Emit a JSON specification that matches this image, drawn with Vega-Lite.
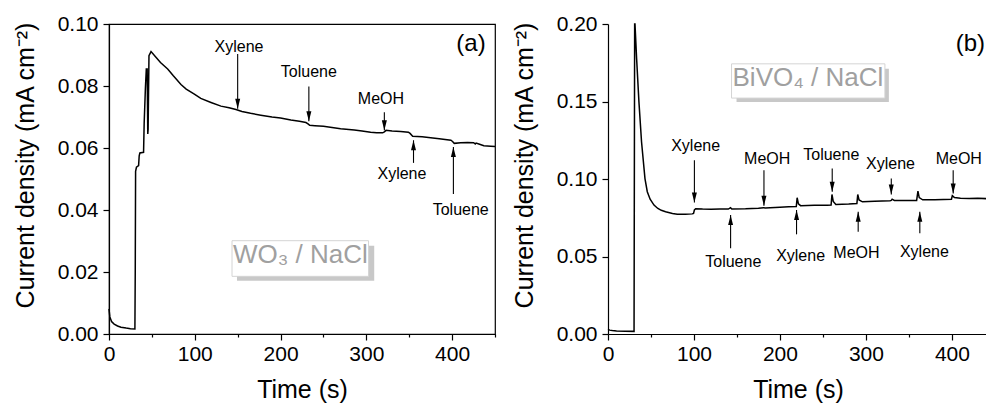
{
  "$schema": "https://vega.github.io/schema/vega-lite/v6.json",
  "padding": {"left": 12, "top": 12, "right": 0, "bottom": 0},
  "background": "white",
  "config": {
    "font": "Liberation Sans",
    "view": {"stroke": "black", "strokeWidth": 1.2},
    "concat": {"spacing": 12},
    "axis": {
      "labelFont": "Liberation Sans", "labelFontSize": 21, "labelColor": "black",
      "titleFont": "Liberation Sans", "titleFontSize": 25, "titleFontWeight": "normal", "titleColor": "black",
      "tickColor": "black", "domainColor": "black", "domainWidth": 1.2, "tickWidth": 1.2,
      "grid": false, "labelOverlap": false, "labelFlush": false, "labelBound": false
    },
    "axisY": {"labelPadding": 5, "minExtent": 50, "maxExtent": 50, "titlePadding": 21, "titleY": 141},
    "axisX": {"labelPadding": 3, "titlePadding": 13}
  },
  "datasets": {
    "curveA": [
      {"t":0,"v":0.0081},{"t":1,"v":0.0055},{"t":3,"v":0.004},{"t":6,"v":0.0032},{"t":10,"v":0.0026},{"t":14,"v":0.0022},{"t":20,"v":0.0019},{"t":25,"v":0.0017},{"t":30.2,"v":0.0016},{"t":30.6,"v":0.02},{"t":31,"v":0.0525},{"t":32,"v":0.0538},{"t":34.5,"v":0.0543},{"t":35.2,"v":0.0575},{"t":36,"v":0.0584},{"t":40.3,"v":0.0586},{"t":41,"v":0.068},{"t":42.4,"v":0.079},{"t":43.5,"v":0.0855},{"t":44.5,"v":0.0855},{"t":45.2,"v":0.0645},{"t":45.6,"v":0.066},{"t":46.6,"v":0.0898},{"t":49,"v":0.0911},{"t":55,"v":0.0892},{"t":60,"v":0.0876},{"t":68.4,"v":0.0855},{"t":75,"v":0.0833},{"t":83.9,"v":0.0805},{"t":90,"v":0.079},{"t":99.5,"v":0.0774},{"t":107,"v":0.076},{"t":118.9,"v":0.0747},{"t":130.5,"v":0.0735},{"t":140,"v":0.073},{"t":148,"v":0.0724},{"t":155,"v":0.0718},{"t":165,"v":0.0712},{"t":177,"v":0.0706},{"t":190,"v":0.07},{"t":200,"v":0.0697},{"t":212,"v":0.069},{"t":222,"v":0.0686},{"t":229.6,"v":0.0682},{"t":232,"v":0.0678},{"t":234,"v":0.0673},{"t":240,"v":0.0672},{"t":250,"v":0.067},{"t":260,"v":0.0666},{"t":270,"v":0.0662},{"t":286,"v":0.0658},{"t":295,"v":0.0655},{"t":305,"v":0.0651},{"t":312,"v":0.0649},{"t":319,"v":0.0649},{"t":321,"v":0.0652},{"t":323,"v":0.0657},{"t":330,"v":0.0655},{"t":340,"v":0.0653},{"t":349,"v":0.0651},{"t":351,"v":0.0647},{"t":354,"v":0.0638},{"t":365,"v":0.0636},{"t":375,"v":0.0633},{"t":385,"v":0.063},{"t":398.6,"v":0.0625},{"t":400.5,"v":0.0621},{"t":402.5,"v":0.0615},{"t":410,"v":0.0617},{"t":418,"v":0.0618},{"t":425,"v":0.0617},{"t":427,"v":0.0613},{"t":428,"v":0.0616},{"t":432,"v":0.0612},{"t":437,"v":0.0607},{"t":445,"v":0.0606},{"t":450,"v":0.0605}
    ],
    "curveB": [
      {"t":0,"v":0.003},{"t":2,"v":0.0025},{"t":5,"v":0.0022},{"t":10,"v":0.002},{"t":20,"v":0.0018},{"t":30.3,"v":0.0017},{"t":31,"v":0.2},{"t":31.4,"v":0.2},{"t":33.3,"v":0.1775},{"t":36,"v":0.1496},{"t":39,"v":0.124},{"t":43,"v":0.1003},{"t":45.7,"v":0.0918},{"t":49,"v":0.087},{"t":53.5,"v":0.0832},{"t":58,"v":0.081},{"t":62,"v":0.0798},{"t":67,"v":0.0789},{"t":75,"v":0.0778},{"t":80.6,"v":0.0773},{"t":90,"v":0.0773},{"t":98,"v":0.0775},{"t":99.5,"v":0.0778},{"t":100.5,"v":0.08},{"t":102,"v":0.0808},{"t":110,"v":0.0806},{"t":120,"v":0.0805},{"t":130,"v":0.0806},{"t":140,"v":0.0806},{"t":142.5,"v":0.0815},{"t":144,"v":0.0806},{"t":160,"v":0.0808},{"t":175,"v":0.0812},{"t":181,"v":0.0815},{"t":183,"v":0.0813},{"t":200,"v":0.0818},{"t":210,"v":0.0821},{"t":219,"v":0.0822},{"t":220,"v":0.0879},{"t":221.5,"v":0.084},{"t":224,"v":0.0828},{"t":240,"v":0.083},{"t":255,"v":0.083},{"t":259.5,"v":0.0832},{"t":260.5,"v":0.09},{"t":262,"v":0.0855},{"t":265,"v":0.0835},{"t":280,"v":0.0838},{"t":289.5,"v":0.0842},{"t":290.5,"v":0.09},{"t":292,"v":0.0865},{"t":296,"v":0.0853},{"t":310,"v":0.0856},{"t":328,"v":0.086},{"t":329.5,"v":0.0862},{"t":330.5,"v":0.087},{"t":333,"v":0.0862},{"t":345,"v":0.0862},{"t":359,"v":0.0862},{"t":360.5,"v":0.0922},{"t":362,"v":0.088},{"t":366,"v":0.0866},{"t":380,"v":0.0866},{"t":390,"v":0.0868},{"t":399.5,"v":0.087},{"t":400.5,"v":0.0893},{"t":403,"v":0.088},{"t":410,"v":0.0876},{"t":420,"v":0.0874},{"t":430,"v":0.0875},{"t":442,"v":0.0873}
    ],
    "annA": [
      {"t":150,"v":0.0727,"v2":0.0903,"tl":151.5,"vl":0.0925,"label":"Xylene","dir":"down"},
      {"t":233,"v":0.0686,"v2":0.0798,"tl":233,"vl":0.0845,"label":"Toluene","dir":"down"},
      {"t":321,"v":0.0657,"v2":0.0715,"tl":317,"vl":0.0757,"label":"MeOH","dir":"down"},
      {"t":355,"v":0.0625,"v2":0.0552,"tl":341.5,"vl":0.0517,"label":"Xylene","dir":"up"},
      {"t":401.5,"v":0.0603,"v2":0.0452,"tl":410,"vl":0.04,"label":"Toluene","dir":"up"}
    ],
    "annB": [
      {"t":100.5,"v":0.0849,"v2":0.1121,"tl":101.9,"vl":0.1211,"label":"Xylene","dir":"down"},
      {"t":142.6,"v":0.0767,"v2":0.0553,"tl":145.7,"vl":0.0467,"label":"Toluene","dir":"up"},
      {"t":181.4,"v":0.0828,"v2":0.1057,"tl":185.2,"vl":0.1132,"label":"MeOH","dir":"down"},
      {"t":219.3,"v":0.08,"v2":0.0643,"tl":224,"vl":0.0506,"label":"Xylene","dir":"up"},
      {"t":260.8,"v":0.0918,"v2":0.1068,"tl":259.7,"vl":0.1153,"label":"Toluene","dir":"down"},
      {"t":291,"v":0.0789,"v2":0.066,"tl":289,"vl":0.0521,"label":"MeOH","dir":"up"},
      {"t":329.5,"v":0.09,"v2":0.1003,"tl":328.6,"vl":0.1095,"label":"Xylene","dir":"down"},
      {"t":362.7,"v":0.0789,"v2":0.065,"tl":368,"vl":0.0532,"label":"Xylene","dir":"up"},
      {"t":401.5,"v":0.0907,"v2":0.1057,"tl":408,"vl":0.1132,"label":"MeOH","dir":"down"}
    ],
    "boxA": [
      {"kind":"shadow","t":149.2,"t2":309.2,"v":0.0172,"v2":0.0285},
      {"kind":"box","t":143.4,"t2":302.6,"v":0.0186,"v2":0.0301}
    ],
    "boxB": [
      {"kind":"shadow","t":149.5,"t2":326.7,"v":0.1496,"v2":0.1711},
      {"kind":"box","t":143.7,"t2":322.1,"v":0.1522,"v2":0.1743}
    ],
    "tagA": [{"tl":223.2,"vl":0.0255,"label":"WO₃ / NaCl","tag":"(a)","tx":422,"ty":0.0935}],
    "tagB": [{"tl":232.5,"vl":0.1651,"label":"BiVO₄ / NaCl","tag":"(b)","tx":421.5,"ty":0.1871}]
  },
  "hconcat": [
    {
      "width": 386, "height": 310,
      "layer": [
        {
          "data": {"name": "boxA"},
          "transform": [{"filter": "datum.kind === 'shadow'"}],
          "mark": {"type": "rect", "color": "#c8c8c8"},
          "encoding": {
            "x": {"field": "t", "type": "quantitative", "scale": {"domain": [0, 450], "nice": false},
              "title": "Time (s)",
              "axis": {"values": [0,50,100,150,200,250,300,350,400,450],
                "labelExpr": "datum.value % 100 === 0 ? datum.label : ''",
                "tickSize": {"condition": {"test": "datum.value % 100 === 0", "value": 6}, "value": 3}}},
            "x2": {"field": "t2"},
            "y": {"field": "v", "type": "quantitative", "scale": {"domain": [0, 0.1], "nice": false},
              "title": "Current density (mA cm⁻²)",
              "axis": {"values": [0,0.01,0.02,0.03,0.04,0.05,0.06,0.07,0.08,0.09,0.1], "format": ".2f",
                "labelExpr": "round(datum.value*100) % 2 === 0 ? datum.label : ''",
                "tickSize": {"condition": {"test": "round(datum.value*100) % 2 === 0", "value": 6}, "value": 3}}},
            "y2": {"field": "v2"}
          }
        },
        {
          "data": {"name": "boxA"},
          "transform": [{"filter": "datum.kind === 'box'"}],
          "mark": {"type": "rect", "fill": "white", "stroke": "#d4d4d4", "strokeWidth": 1},
          "encoding": {
            "x": {"field": "t", "type": "quantitative"}, "x2": {"field": "t2"},
            "y": {"field": "v", "type": "quantitative"}, "y2": {"field": "v2"}
          }
        },
        {
          "data": {"name": "tagA"},
          "mark": {"type": "text", "font": "Liberation Sans", "fontSize": 26, "color": "#a0a0a0", "align": "center", "baseline": "middle"},
          "encoding": {
            "x": {"field": "tl", "type": "quantitative"},
            "y": {"field": "vl", "type": "quantitative"},
            "text": {"field": "label"}
          }
        },
        {
          "data": {"name": "tagA"},
          "mark": {"type": "text", "font": "Liberation Sans", "fontSize": 24, "color": "black", "align": "center", "baseline": "middle"},
          "encoding": {
            "x": {"field": "tx", "type": "quantitative"},
            "y": {"field": "ty", "type": "quantitative"},
            "text": {"field": "tag"}
          }
        },
        {
          "data": {"name": "curveA"},
          "mark": {"type": "line", "color": "black", "strokeWidth": 1.5},
          "encoding": {
            "x": {"field": "t", "type": "quantitative"},
            "y": {"field": "v", "type": "quantitative"}
          }
        },
        {
          "data": {"name": "annA"},
          "mark": {"type": "rule", "color": "black", "strokeWidth": 1.1},
          "encoding": {
            "x": {"field": "t", "type": "quantitative"},
            "y": {"field": "v", "type": "quantitative"}, "y2": {"field": "v2"}
          }
        },
        {
          "data": {"name": "annA"},
          "transform": [{"filter": "datum.dir === 'down'"}],
          "mark": {"type": "point", "shape": "M0,0L-0.25,-1L0.25,-1Z", "size": 400, "filled": true, "color": "black", "opacity": 1, "strokeWidth": 0},
          "encoding": {
            "x": {"field": "t", "type": "quantitative"},
            "y": {"field": "v", "type": "quantitative"}
          }
        },
        {
          "data": {"name": "annA"},
          "transform": [{"filter": "datum.dir === 'up'"}],
          "mark": {"type": "point", "shape": "M0,0L-0.25,1L0.25,1Z", "size": 400, "filled": true, "color": "black", "opacity": 1, "strokeWidth": 0},
          "encoding": {
            "x": {"field": "t", "type": "quantitative"},
            "y": {"field": "v", "type": "quantitative"}
          }
        },
        {
          "data": {"name": "annA"},
          "mark": {"type": "text", "font": "Liberation Sans", "fontSize": 16, "color": "black", "align": "center", "baseline": "middle"},
          "encoding": {
            "x": {"field": "tl", "type": "quantitative"},
            "y": {"field": "vl", "type": "quantitative"},
            "text": {"field": "label"}
          }
        }
      ]
    },
    {
      "width": 380, "height": 310,
      "view": {"stroke": null},
      "layer": [
        {
          "data": {"name": "boxB"},
          "transform": [{"filter": "datum.kind === 'shadow'"}],
          "mark": {"type": "rect", "color": "#c8c8c8"},
          "encoding": {
            "x": {"field": "t", "type": "quantitative", "scale": {"domain": [0, 442], "nice": false},
              "title": "Time (s)",
              "axis": {"values": [0,50,100,150,200,250,300,350,400],
                "labelExpr": "datum.value % 100 === 0 ? datum.label : ''",
                "tickSize": {"condition": {"test": "datum.value % 100 === 0", "value": 6}, "value": 3}}},
            "x2": {"field": "t2"},
            "y": {"field": "v", "type": "quantitative", "scale": {"domain": [0, 0.2], "nice": false},
              "title": "Current density (mA cm⁻²)",
              "axis": {"values": [0,0.025,0.05,0.075,0.1,0.125,0.15,0.175,0.2], "format": ".2f",
                "labelExpr": "round(datum.value*40) % 2 === 0 ? datum.label : ''",
                "tickSize": {"condition": {"test": "round(datum.value*40) % 2 === 0", "value": 6}, "value": 3}}},
            "y2": {"field": "v2"}
          }
        },
        {
          "data": {"name": "boxB"},
          "transform": [{"filter": "datum.kind === 'box'"}],
          "mark": {"type": "rect", "fill": "white", "stroke": "#d4d4d4", "strokeWidth": 1},
          "encoding": {
            "x": {"field": "t", "type": "quantitative"}, "x2": {"field": "t2"},
            "y": {"field": "v", "type": "quantitative"}, "y2": {"field": "v2"}
          }
        },
        {
          "data": {"name": "tagB"},
          "mark": {"type": "text", "font": "Liberation Sans", "fontSize": 26, "color": "#a0a0a0", "align": "center", "baseline": "middle"},
          "encoding": {
            "x": {"field": "tl", "type": "quantitative"},
            "y": {"field": "vl", "type": "quantitative"},
            "text": {"field": "label"}
          }
        },
        {
          "data": {"name": "tagB"},
          "mark": {"type": "text", "font": "Liberation Sans", "fontSize": 24, "color": "black", "align": "center", "baseline": "middle"},
          "encoding": {
            "x": {"field": "tx", "type": "quantitative"},
            "y": {"field": "ty", "type": "quantitative"},
            "text": {"field": "tag"}
          }
        },
        {
          "mark": {"type": "rule", "color": "black", "strokeWidth": 1.2},
          "encoding": {"y": {"datum": 0.2, "type": "quantitative"}}
        },
        {
          "data": {"name": "curveB"},
          "mark": {"type": "line", "color": "black", "strokeWidth": 1.5},
          "encoding": {
            "x": {"field": "t", "type": "quantitative"},
            "y": {"field": "v", "type": "quantitative"}
          }
        },
        {
          "data": {"name": "annB"},
          "mark": {"type": "rule", "color": "black", "strokeWidth": 1.1},
          "encoding": {
            "x": {"field": "t", "type": "quantitative"},
            "y": {"field": "v", "type": "quantitative"}, "y2": {"field": "v2"}
          }
        },
        {
          "data": {"name": "annB"},
          "transform": [{"filter": "datum.dir === 'down'"}],
          "mark": {"type": "point", "shape": "M0,0L-0.25,-1L0.25,-1Z", "size": 400, "filled": true, "color": "black", "opacity": 1, "strokeWidth": 0},
          "encoding": {
            "x": {"field": "t", "type": "quantitative"},
            "y": {"field": "v", "type": "quantitative"}
          }
        },
        {
          "data": {"name": "annB"},
          "transform": [{"filter": "datum.dir === 'up'"}],
          "mark": {"type": "point", "shape": "M0,0L-0.25,1L0.25,1Z", "size": 400, "filled": true, "color": "black", "opacity": 1, "strokeWidth": 0},
          "encoding": {
            "x": {"field": "t", "type": "quantitative"},
            "y": {"field": "v", "type": "quantitative"}
          }
        },
        {
          "data": {"name": "annB"},
          "mark": {"type": "text", "font": "Liberation Sans", "fontSize": 16, "color": "black", "align": "center", "baseline": "middle"},
          "encoding": {
            "x": {"field": "tl", "type": "quantitative"},
            "y": {"field": "vl", "type": "quantitative"},
            "text": {"field": "label"}
          }
        }
      ]
    }
  ]
}
